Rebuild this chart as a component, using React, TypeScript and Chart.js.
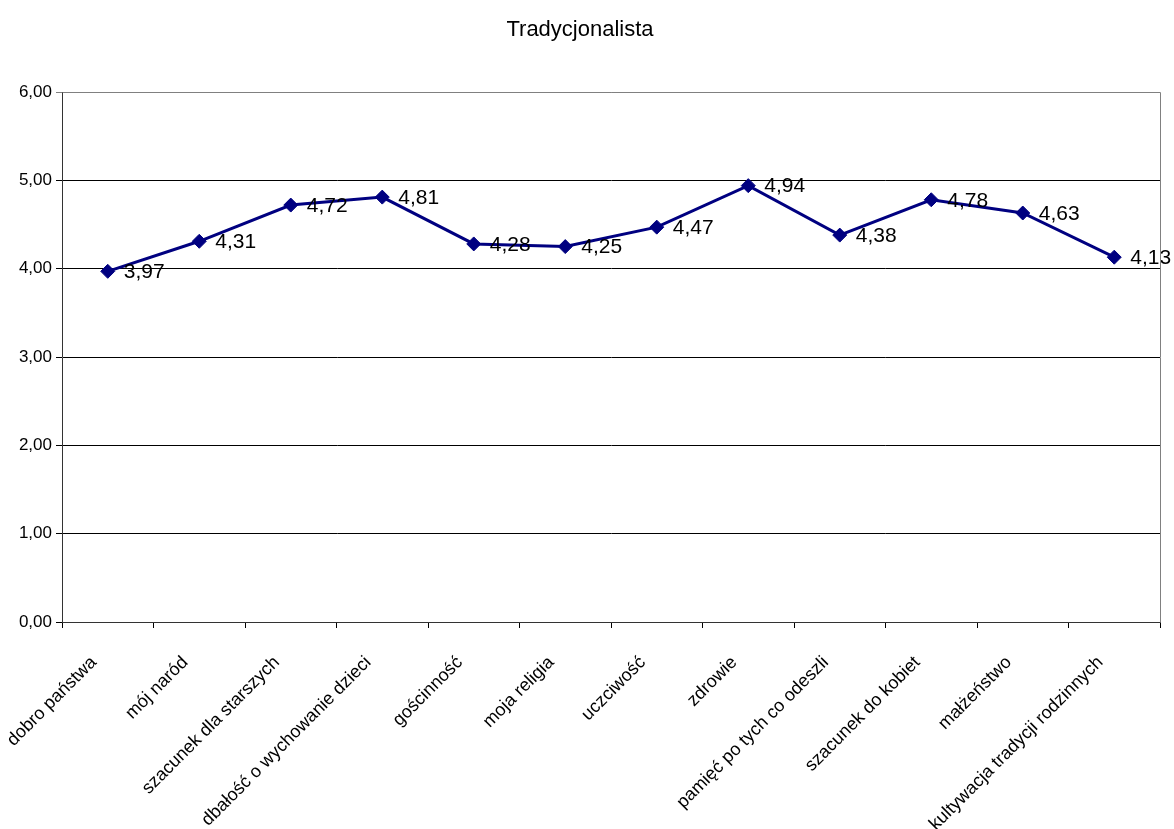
import { useEffect, useRef } from 'react';
import { Chart, registerables } from 'chart.js';

Chart.register(...registerables);

const chartTitle = 'Tradycjonalista';
const categories = [
  'dobro państwa',
  'mój naród',
  'szacunek dla starszych',
  'dbałość o wychowanie dzieci',
  'gościnność',
  'moja religia',
  'uczciwość',
  'zdrowie',
  'pamięć po tych co odeszli',
  'szacunek do kobiet',
  'małżeństwo',
  'kultywacja tradycji rodzinnych',
];
const values = [3.97, 4.31, 4.72, 4.81, 4.28, 4.25, 4.47, 4.94, 4.38, 4.78, 4.63, 4.13];
const yMin = 0;
const yMax = 6;
const yStep = 1;

const FONT = "'Liberation Sans', Arial, sans-serif";
const fmt = (v: number) => v.toFixed(2).replace('.', ',');

const labelPlugin = {
  id: 'extras',
  afterDatasetsDraw(chart: any) {
    const ctx = chart.ctx;
    const meta = chart.getDatasetMeta(0);
    ctx.save();
    ctx.font = `21px ${FONT}`;
    ctx.fillStyle = '#000';
    ctx.textAlign = 'left';
    ctx.textBaseline = 'middle';
    meta.data.forEach((pt: any, i: number) => {
      ctx.fillText(fmt(values[i]), pt.x + 16, pt.y + 1);
    });
    ctx.restore();
  },
  afterDraw(chart: any) {
    const ctx = chart.ctx;
    const a = chart.chartArea;
    ctx.save();
    ctx.strokeStyle = '#808080';
    ctx.lineWidth = 1;
    ctx.beginPath();
    ctx.moveTo(Math.round(a.left) + 0.5, Math.round(a.top) + 0.5);
    ctx.lineTo(Math.round(a.right) + 0.5, Math.round(a.top) + 0.5);
    ctx.lineTo(Math.round(a.right) + 0.5, Math.round(a.bottom) + 0.5);
    ctx.stroke();
    ctx.font = `22px ${FONT}`;
    ctx.fillStyle = '#000';
    ctx.textAlign = 'center';
    ctx.textBaseline = 'middle';
    ctx.fillText(chartTitle, 580, 30);
    ctx.restore();
  },
};

export default function App() {
  const ref = useRef<HTMLCanvasElement>(null);
  useEffect(() => {
    document.body.style.margin = '0';
    const chart = new Chart(ref.current as HTMLCanvasElement, {
      type: 'line',
      data: {
        labels: categories,
        datasets: [
          {
            data: values,
            borderColor: '#000080',
            backgroundColor: '#000080',
            borderWidth: 3,
            pointStyle: 'rectRot',
            pointRadius: 7,
            pointHoverRadius: 7,
            pointBackgroundColor: '#000080',
            pointBorderColor: '#000080',
            pointBorderWidth: 1,
            tension: 0,
            fill: false,
          },
        ],
      },
      options: {
        animation: false,
        responsive: false,
        maintainAspectRatio: false,
        layout: { padding: { top: 92, right: 14, left: 0, bottom: 0 } },
        plugins: {
          legend: { display: false },
          title: { display: false },
          tooltip: { enabled: false },
        },
        scales: {
          x: {
            type: 'category',
            offset: true,
            grid: {
              offset: true,
              drawOnChartArea: false,
              drawTicks: true,
              tickLength: 6,
              color: '#000',
            },
            border: { color: '#333', width: 1 },
            ticks: {
              minRotation: 45,
              maxRotation: 45,
              autoSkip: false,
              padding: 24,
              labelOffset: -14,
              color: '#000',
              font: { family: FONT, size: 18 },
            },
            afterFit(scale: any) {
              scale.height = 207;
              scale.paddingLeft = 0;
              scale.paddingRight = 0;
            },
          },
          y: {
            min: yMin,
            max: yMax,
            grid: {
              color: (c: any) => (c.tick && c.tick.value === yMax ? '#808080' : '#000'),
              tickLength: 6,
              lineWidth: 1,
            },
            border: { color: '#333', width: 1 },
            ticks: {
              stepSize: yStep,
              padding: 4,
              color: '#000',
              font: { family: FONT, size: 17 },
              callback: (v: any) => fmt(Number(v)),
            },
            afterFit(scale: any) {
              scale.width = 62;
            },
          },
        },
      },
      plugins: [labelPlugin],
    });
    return () => chart.destroy();
  }, []);
  return (
    <div style={{ position: 'fixed', left: 0, top: 0, width: 1174, height: 829, background: '#fff' }}>
      <canvas ref={ref} width={1174} height={829} style={{ width: 1174, height: 829, display: 'block' }} />
    </div>
  );
}
